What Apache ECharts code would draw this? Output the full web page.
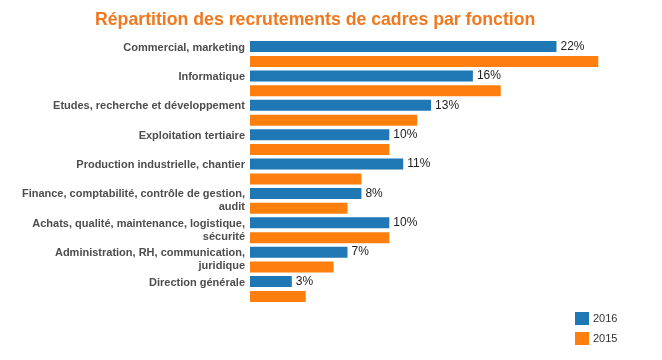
<!DOCTYPE html>
<html>
<head>
<meta charset="utf-8">
<script src="https://cdn.jsdelivr.net/npm/echarts@6/dist/echarts.min.js"></script>
<style>
  html, body { margin: 0; padding: 0; background: #fff; }
  #chart { width: 662px; height: 360px; }
</style>
</head>
<body>
<div id="chart"></div>
<script>
const titleText = "Répartition des recrutements de cadres par fonction";
const categories = [
  "Commercial, marketing",
  "Informatique",
  "Etudes, recherche et développement",
  "Exploitation tertiaire",
  "Production industrielle, chantier",
  "Finance, comptabilité, contrôle de gestion,\naudit",
  "Achats, qualité, maintenance, logistique,\nsécurité",
  "Administration, RH, communication,\njuridique",
  "Direction générale"
];
const seriesNames = ["2016", "2015"];
const values2016 = [22, 16, 13, 10, 11, 8, 10, 7, 3];
const values2015 = [25, 18, 12, 10, 8, 7, 10, 6, 4];

const chart = echarts.init(document.getElementById('chart'));
chart.setOption({
  animation: false,
  title: {
    text: titleText,
    left: 95,
    top: 11,
    padding: 0,
    textStyle: { color: '#f0781e', fontFamily: 'Liberation Sans', fontWeight: 'bold', fontSize: 17.7 }
  },
  legend: {
    orient: 'vertical',
    left: 575,
    top: 312,
    padding: 0,
    itemWidth: 14,
    itemHeight: 13,
    itemGap: 7,
    icon: 'rect',
    data: seriesNames,
    textStyle: { fontFamily: 'Liberation Sans', fontSize: 11, color: '#333', padding: [0, 0, 0, -1] }
  },
  grid: { left: 250, top: 39.3, width: 348.25, height: 264.4, containLabel: false },
  xAxis: {
    type: 'value', min: 0, max: 25,
    show: false
  },
  yAxis: {
    type: 'category',
    inverse: true,
    data: categories,
    axisLine: { show: false },
    axisTick: { show: false },
    splitLine: { show: false },
    axisLabel: {
      margin: 5,
      fontFamily: 'Liberation Sans',
      fontWeight: 'bold',
      fontSize: 11,
      color: '#4d4d4d',
      lineHeight: 13,
      align: 'right',
      verticalAlign: 'middle',
      formatter: function (v) { return v.indexOf('\n') >= 0 ? v : v + '\n\u00a0'; }
    }
  },
  series: [
    {
      name: seriesNames[0], type: 'bar', data: values2016,
      barWidth: 11, barGap: '36%',
      itemStyle: { color: '#1f77b4' },
      label: {
        show: true, position: 'right', distance: 4,
        formatter: '{c}%',
        fontFamily: 'Liberation Sans', fontSize: 12, color: '#222'
      }
    },
    {
      name: seriesNames[1], type: 'bar', data: values2015,
      barWidth: 11, barGap: '36%',
      itemStyle: { color: '#ff7f0e' }
    }
  ]
});
</script>
</body>
</html>
